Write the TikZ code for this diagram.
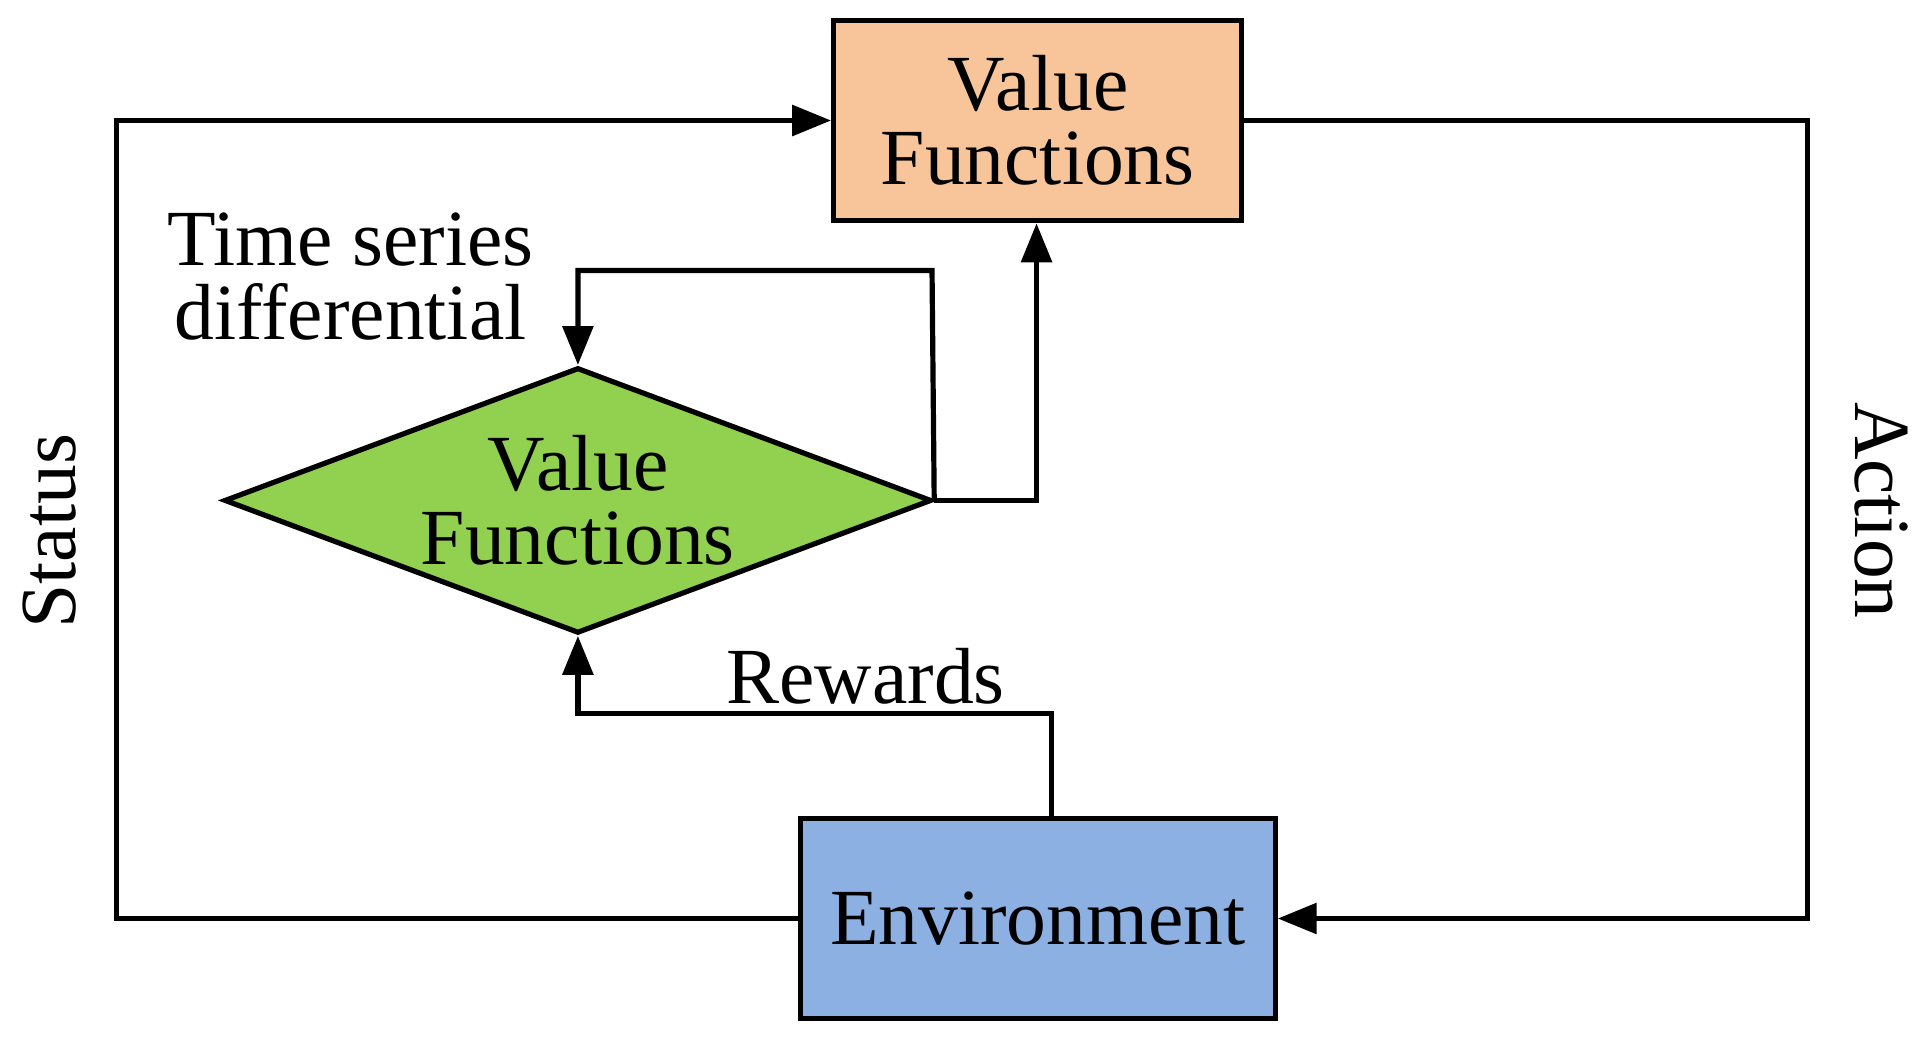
\documentclass[tikz,border=0pt]{standalone}
\usepackage{fontspec}
\setmainfont{Liberation Serif}
\usetikzlibrary{shapes.geometric,arrows.meta}
\definecolor{cOr}{HTML}{F8C59B}
\definecolor{cGr}{HTML}{92D050}
\definecolor{cBl}{HTML}{8DB0E3}
\begin{document}
\begin{tikzpicture}[x=0.01cm,y=-0.01cm,
  ln/.style={line width=1.2pt},
  ar/.style={ln,-{Triangle[length=9pt,width=7pt]}},
  txt/.style={font=\fontsize{18.4}{17}\selectfont,align=center,inner sep=0pt},
  box/.style={draw,line width=1.2pt,txt}]
\useasboundingbox (0,0) rectangle (1568,848);
\node[box,fill=cOr,minimum width=332\pgflinewidth*0+332*0.01cm,minimum height=1.63cm] (vf) at (844,98) {Value\\Functions};
\node[box,fill=cBl,minimum width=3.86cm,minimum height=1.62cm] (env) at (844,747) {Environment};
\node[box,diamond,fill=cGr,minimum width=5.75cm,minimum height=2.16cm,aspect=2.66] (dia) at (470,407) {Value\\Functions};
\coordinate (tl) at (95,98);
\coordinate (bl) at (95,747);
\coordinate (tr) at (1470,98);
\coordinate (br) at (1470,747);
\draw[ar] (env.west) -- (bl) -- (tl) -- (vf.west);
\draw[ar] (vf.east) -- (tr) -- (br) -- (env.east);
\draw[ar] (dia.east) -- (758,220) -- (470,220) -- (dia.north);
\draw[ar] (dia.east) -- (843,407) -- (vf.south -| 843,0);
\draw[ar] (env.north -| 855,0) -- (855,580) -- (470,580) -- (dia.south);
\node[txt] (rw) at (704,550) {Rewards};
\node[txt] (ts) at (285,225) {Time series\\differential};
\node[txt,rotate=90] (st) at (40,432) {Status};
\node[txt,rotate=-90] (ac) at (1530,415) {Action};
\end{tikzpicture}
\end{document}
